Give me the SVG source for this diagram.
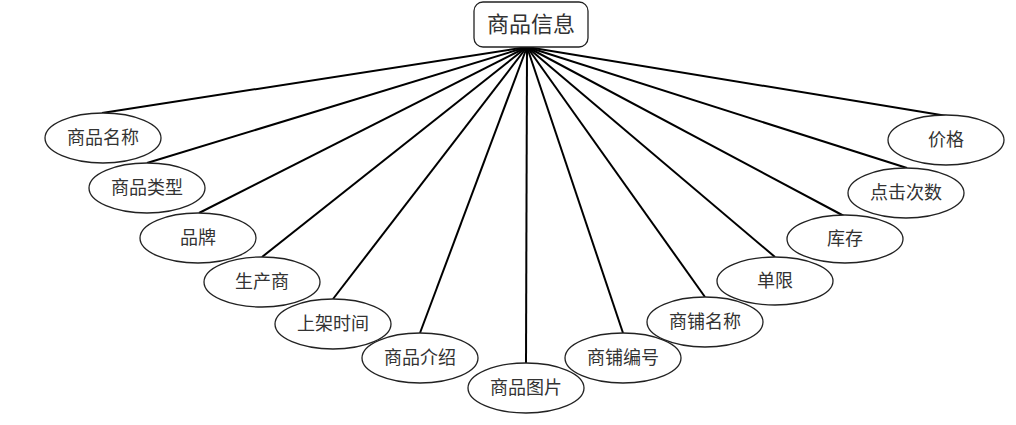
<svg xmlns="http://www.w3.org/2000/svg" width="1016" height="425" viewBox="0 0 1016 425">
<style>
.e{fill:#fff;stroke:#222;stroke-width:1.3}
.t{font-family:"Liberation Sans","Noto Sans CJK SC",sans-serif;font-size:18px;fill:#333;text-anchor:middle}
.c line{stroke:#000;stroke-width:2}
</style>
<rect width="1016" height="425" fill="#fff"/>
<g class="c" id="connectors">
<line x1="527" y1="47" x2="102" y2="113"/>
<line x1="527" y1="47" x2="147" y2="163"/>
<line x1="527" y1="47" x2="199" y2="213"/>
<line x1="527" y1="47" x2="262" y2="257"/>
<line x1="527" y1="47" x2="333" y2="299"/>
<line x1="527" y1="47" x2="420" y2="333"/>
<line x1="527" y1="47" x2="526" y2="363"/>
<line x1="527" y1="47" x2="623" y2="333"/>
<line x1="527" y1="47" x2="705" y2="297"/>
<line x1="527" y1="47" x2="775" y2="257"/>
<line x1="527" y1="47" x2="844" y2="216"/>
<line x1="527" y1="47" x2="907" y2="168"/>
<line x1="527" y1="47" x2="947" y2="116"/>
</g>
<g id="root">
<rect x="474" y="2" width="114" height="45" rx="9" fill="#fff" stroke="#222" stroke-width="1.3"/>
<text x="531" y="32" class="t" style="font-size:22px">商品信息</text>
</g>
<g id="n1"><ellipse class="e" cx="103" cy="138" rx="58" ry="25"/><text class="t" x="103" y="144">商品名称</text></g>
<g id="n2"><ellipse class="e" cx="147" cy="188" rx="58" ry="25"/><text class="t" x="147" y="194">商品类型</text></g>
<g id="n3"><ellipse class="e" cx="198" cy="238" rx="58" ry="25"/><text class="t" x="198" y="244">品牌</text></g>
<g id="n4"><ellipse class="e" cx="262" cy="282" rx="58" ry="25"/><text class="t" x="262" y="288">生产商</text></g>
<g id="n5"><ellipse class="e" cx="333" cy="324" rx="58" ry="25"/><text class="t" x="333" y="330">上架时间</text></g>
<g id="n6"><ellipse class="e" cx="420" cy="358" rx="58" ry="25"/><text class="t" x="420" y="364">商品介绍</text></g>
<g id="n7"><ellipse class="e" cx="526" cy="388" rx="58" ry="25"/><text class="t" x="526" y="394">商品图片</text></g>
<g id="n8"><ellipse class="e" cx="623" cy="358" rx="58" ry="25"/><text class="t" x="623" y="364">商铺编号</text></g>
<g id="n9"><ellipse class="e" cx="705" cy="322" rx="58" ry="25"/><text class="t" x="705" y="328">商铺名称</text></g>
<g id="n10"><ellipse class="e" cx="775" cy="281" rx="58" ry="24"/><text class="t" x="775" y="287">单限</text></g>
<g id="n11"><ellipse class="e" cx="845" cy="239" rx="58" ry="24"/><text class="t" x="845" y="245">库存</text></g>
<g id="n12"><ellipse class="e" cx="906" cy="193" rx="58" ry="25"/><text class="t" x="906" y="199">点击次数</text></g>
<g id="n13"><ellipse class="e" cx="946" cy="140" rx="58" ry="25"/><text class="t" x="946" y="146">价格</text></g>
</svg>
